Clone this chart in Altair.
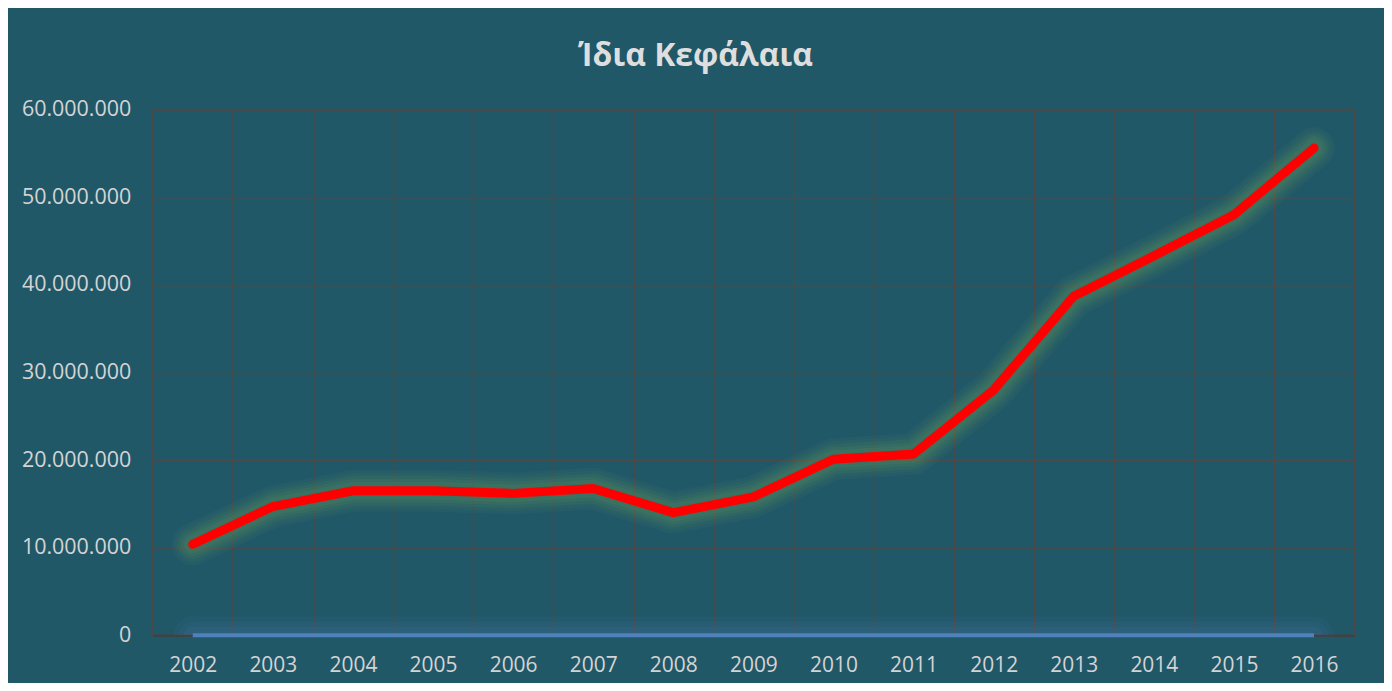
import altair as alt
import pandas as pd

years = [2002, 2003, 2004, 2005, 2006, 2007, 2008, 2009, 2010, 2011, 2012, 2013, 2014, 2015, 2016]
equity = [10400000, 14700000, 16500000, 16500000, 16200000, 16750000, 14000000, 15800000,
          20100000, 20700000, 28000000, 38700000, 43300000, 48000000, 55600000]
zeros = [0, 0, 0, 0, 0, 0, 0, 0, 0, 0, 0, 0, 0, 0, 0]
y_ticks = [0, 10000000, 20000000, 30000000, 40000000, 50000000, 60000000]
title_text = "Ίδια Κεφάλαια"

BG = "#215868"
GRID = "#4a4a4a"
LABEL = "#d4d4d4"

red_df = pd.DataFrame({"year": years, "value": equity})
blue_df = pd.DataFrame({"year": years, "value": zeros})

x_enc = alt.X(
    "year:O",
    bandPosition=0.5,
    scale=alt.Scale(type="band", paddingInner=0, paddingOuter=0),
    axis=alt.Axis(
        title=None, labelAngle=0, ticks=False, grid=True, gridColor=GRID, gridWidth=1.5,
        tickBand="extent", domain=True, domainColor="#404040", domainWidth=2,
        labelColor=LABEL, labelFont="Open Sans", labelFontSize=21, labelPadding=19,
    ),
)
y_enc = alt.Y(
    "value:Q",
    scale=alt.Scale(domain=[0, 60000000], nice=False),
    axis=alt.Axis(
        title=None, values=y_ticks, grid=True, gridColor=GRID, gridWidth=1.5, ticks=False,
        domain=False, labelColor=LABEL, labelFont="Open Sans", labelFontSize=21.5,
        labelPadding=22, labelExpr="join(split(format(datum.value, ','), ','), '.')",
    ),
)

def line(df, **kw):
    return alt.Chart(df).mark_line(**kw).encode(x=x_enc, y=y_enc)

layers = []
for w, o in [(42, 0.05), (36, 0.06), (30, 0.07), (24, 0.08), (18, 0.09)]:
    layers.append(line(red_df, color="#7fae5c", strokeWidth=w, opacity=o,
                       strokeCap="round", strokeJoin="round"))
for w, o in [(38, 0.07), (28, 0.08), (18, 0.10)]:
    layers.append(line(blue_df, color="#4f81bd", strokeWidth=w, opacity=o,
                       strokeCap="round", clip=True))
layers.append(line(blue_df, color="#4f81bd", strokeWidth=4, strokeCap="butt"))
layers.append(line(red_df, color="#ff0000", strokeWidth=9, strokeCap="round", strokeJoin="round"))

chart = alt.layer(*layers).properties(
    width=1204,
    height=527,
    background=BG,
    padding={"left": 145, "top": 101, "right": 30, "bottom": 47},
    autosize=alt.AutoSizeParams(type="none"),
    title=alt.TitleParams(
        text=title_text, anchor="middle", dx=-58, offset=26, font="Open Sans",
        fontSize=32, fontWeight="bold", color="#dedede",
    ),
).configure_view(stroke=GRID, strokeWidth=1.5)

chart.save("out.html", embed_options={"renderer": "svg", "actions": False})
